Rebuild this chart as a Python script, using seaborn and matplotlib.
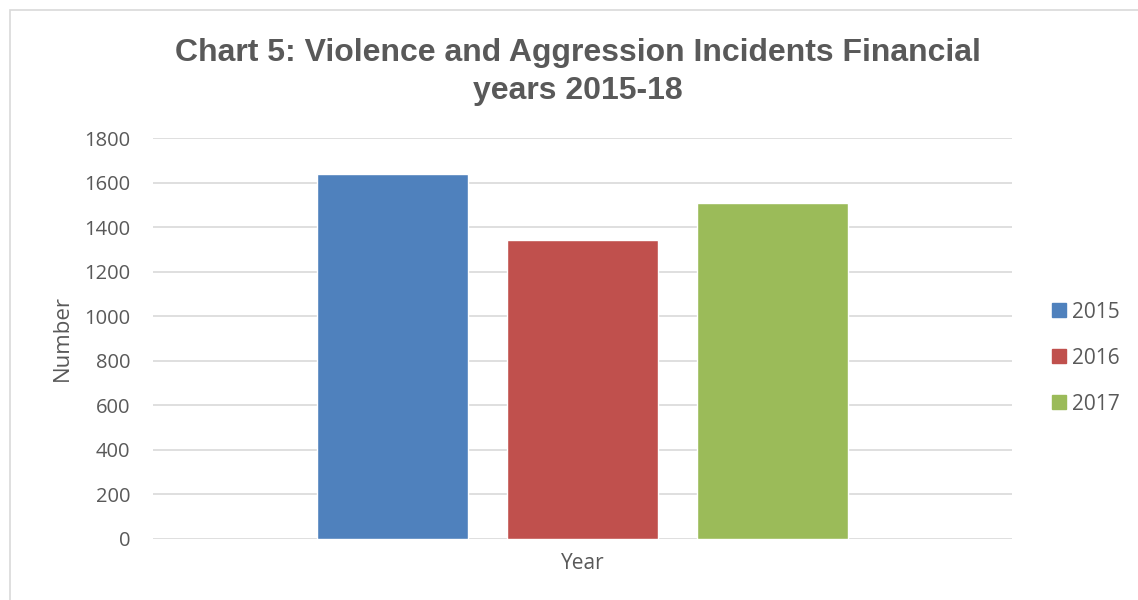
import pandas as pd
import matplotlib.pyplot as plt
import matplotlib.patches as mpatches
import seaborn as sns

# values
years = ['2015', '2016', '2017']
incidents = [1640, 1343, 1509]
colors = ['#4F81BD', '#C0504D', '#9BBB59']
category = 'Year'

df = pd.DataFrame({'cat': [category] * len(years), 'year': years, 'n': incidents})

sns.set_style('white')
plt.rcParams['font.family'] = ['Liberation Sans', 'DejaVu Sans']
text_grey = '#595959'
body_font = ['Open Sans', 'DejaVu Sans']

fig = plt.figure(figsize=(11.38, 6), dpi=100)
ax = fig.add_axes([0.1345, 0.1017, 0.7545, 0.6683])

sns.barplot(data=df, x='cat', y='n', hue='year', palette=colors, width=0.664,
            gap=0.205, saturation=1, ax=ax, legend=False, zorder=3)

ax.set_ylim(0, 1800)
ax.set_xlim(-0.5, 0.5)
ax.set_yticks(range(0, 1801, 200))
ax.yaxis.grid(True, color='#d9d9d9', linewidth=1.2, zorder=0)
ax.set_axisbelow(True)
for s in ax.spines.values():
    s.set_visible(False)
ax.tick_params(axis='y', length=0, labelsize=14.5, colors=text_grey, pad=16.5)
ax.tick_params(axis='x', length=0, labelsize=15, colors=text_grey, pad=10)
for lbl in ax.get_xticklabels() + ax.get_yticklabels():
    lbl.set_family(body_font)
ax.set_xlabel('')
ax.set_ylabel('Number', fontsize=16, color=text_grey, family=body_font, labelpad=8)

fig.suptitle('Chart 5: Violence and Aggression Incidents Financial\nyears 2015-18',
             x=0.508, y=0.936, fontsize=23, fontweight='bold', color=text_grey,
             linespacing=1.33)

handles = [mpatches.Patch(color=c, label=y) for c, y in zip(colors, years)]
leg = fig.legend(handles=handles, loc='center left',
                 bbox_to_anchor=(1052 / 1138, (600 - 358) / 600),
                 frameon=False, borderpad=0, borderaxespad=0,
                 handlelength=0.68, handleheight=0.68,
                 handletextpad=0.3, labelspacing=1.2,
                 prop={'family': body_font, 'size': 15})
for t in leg.get_texts():
    t.set_color(text_grey)

# light chart border like the original
fig.patches.append(mpatches.Rectangle((0.009, -0.01), 1.0, 0.993, transform=fig.transFigure,
                                      fill=False, edgecolor='#d9d9d9', linewidth=1.2))

fig.savefig('out.png', dpi=100)
